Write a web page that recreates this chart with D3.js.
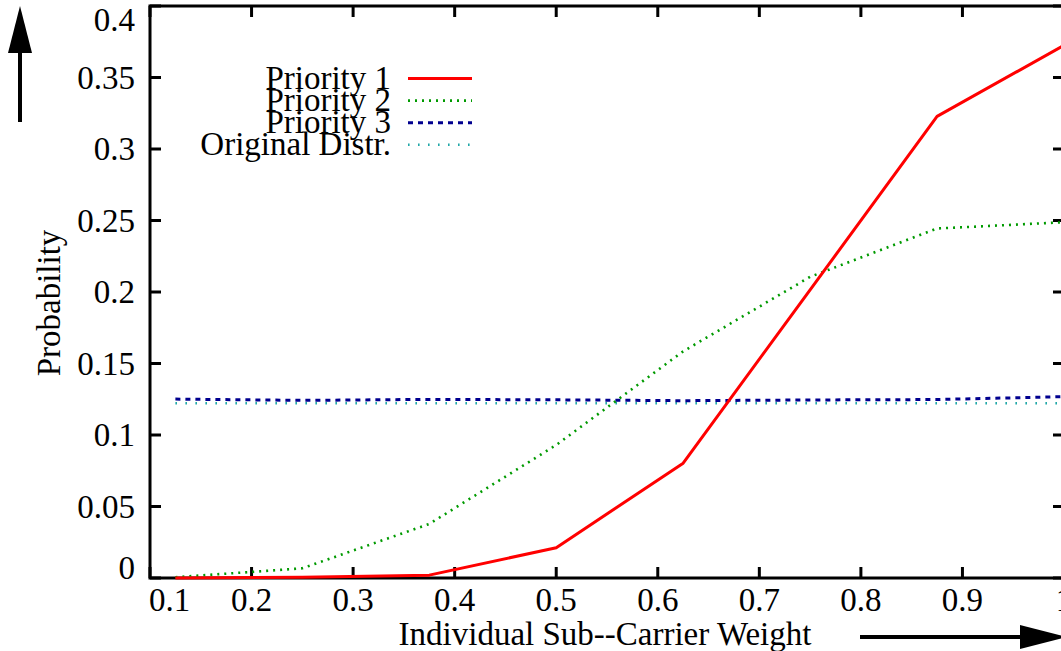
<!DOCTYPE html>
<html>
<head>
<meta charset="utf-8">
<script src="https://cdn.jsdelivr.net/npm/d3@7"></script>
<style>
    body { margin: 0; background: #fff; }
    text { font-family: "Liberation Serif", "DejaVu Serif", serif; fill: #000; }
</style>
</head>
<body>
<div id="chart"></div>
<script>
// Data
var weights = [0.125, 0.25, 0.375, 0.5, 0.625, 0.75, 0.875, 1.0];
var priority1 = [0.0, 0.0005, 0.002, 0.0212, 0.0803, 0.2015, 0.3228, 0.3725];
var priority2 = [0.0005, 0.0068, 0.0378, 0.093, 0.1585, 0.2106, 0.2444, 0.2488];
var priority3 = [0.1251, 0.1242, 0.1249, 0.1246, 0.1240, 0.1245, 0.1248, 0.1268];
var originalDistr = [0.1222, 0.1222, 0.1222, 0.1222, 0.1222, 0.1222, 0.1222, 0.1222];

var seriesNames = ["Priority 1", "Priority 2", "Priority 3", "Original Distr."];
var xTicks = [0.1, 0.2, 0.3, 0.4, 0.5, 0.6, 0.7, 0.8, 0.9, 1];
var yTicks = [0, 0.05, 0.1, 0.15, 0.2, 0.25, 0.3, 0.35, 0.4];

var seriesStyles = [
    {color: "#ff0000", width: 3, dash: null},
    {color: "#009a00", width: 2.6, dash: "2,5"},
    {color: "#00008f", width: 3, dash: "5,5"},
    {color: "#22a8a8", width: 2.4, dash: "1.6,8.4"}
];

var width = 1061, height = 651;
var margin = {top: 6, right: 0, bottom: 73, left: 150};
var plotRight = 1064;
var fontSize = "33px";

var svg = d3.select("#chart").append("svg")
    .attr("width", width)
    .attr("height", height);

var xScale = d3.scaleLinear().domain([0.1, 1]).range([margin.left, plotRight]);
var yScale = d3.scaleLinear().domain([0, 0.4]).range([height - margin.bottom, margin.top]);

var x0 = xScale(0.1), x1 = xScale(1), y0 = yScale(0), y1 = yScale(0.4);
var tickLen = 11;

// Frame
svg.append("rect")
    .attr("x", x0).attr("y", y1)
    .attr("width", x1 - x0).attr("height", y0 - y1)
    .attr("fill", "none").attr("stroke", "#000").attr("stroke-width", 3);

// Ticks (gnuplot style: on all four sides, pointing inwards)
var tickG = svg.append("g").attr("stroke", "#000").attr("stroke-width", 3);
xTicks.forEach(function(t) {
    tickG.append("line").attr("x1", xScale(t)).attr("x2", xScale(t)).attr("y1", y0).attr("y2", y0 - tickLen);
    tickG.append("line").attr("x1", xScale(t)).attr("x2", xScale(t)).attr("y1", y1).attr("y2", y1 + tickLen);
});
yTicks.forEach(function(t) {
    tickG.append("line").attr("x1", x0).attr("x2", x0 + tickLen).attr("y1", yScale(t)).attr("y2", yScale(t));
    tickG.append("line").attr("x1", x1).attr("x2", x1 - tickLen).attr("y1", yScale(t)).attr("y2", yScale(t));
});

var fmt = function(d) { return String(+d.toFixed(2)); };

// Tick labels (first x label is shifted right, as in the original)
svg.append("g").selectAll("text")
    .data(xTicks).enter().append("text")
    .attr("x", function(d, i) { return i === 0 ? x0 - 1 : xScale(d); })
    .attr("y", y0 + 33)
    .attr("text-anchor", function(d, i) { return i === 0 ? "start" : "middle"; })
    .style("font-size", fontSize)
    .text(fmt);

// end labels are pushed inwards so they stay clear of the corners
svg.append("g").selectAll("text")
    .data(yTicks).enter().append("text")
    .attr("x", x0 - 15)
    .attr("y", function(d) { return Math.min(Math.max(yScale(d) + 11, 31), 579); })
    .attr("text-anchor", "end")
    .style("font-size", fontSize)
    .text(fmt);

// Axis titles
svg.append("text")
    .attr("x", (x0 + x1) / 2 - 2)
    .attr("y", 645)
    .attr("text-anchor", "middle")
    .style("font-size", fontSize)
    .text("Individual Sub--Carrier Weight");

svg.append("text")
    .attr("transform", "translate(60," + 303 + ") rotate(-90)")
    .attr("text-anchor", "middle")
    .style("font-size", fontSize)
    .text("Probability");

// Arrows next to the axis titles
svg.append("line")
    .attr("x1", 20).attr("x2", 20).attr("y1", 122).attr("y2", 50)
    .attr("stroke", "#000").attr("stroke-width", 4);
svg.append("path")
    .attr("d", "M20,6 L32,53 L8,53 Z")
    .attr("fill", "#000");

svg.append("line")
    .attr("x1", 860).attr("x2", 1022).attr("y1", 637).attr("y2", 637)
    .attr("stroke", "#000").attr("stroke-width", 4);
svg.append("path")
    .attr("d", "M1067,637 L1020,625 L1020,649 Z")
    .attr("fill", "#000");

// Lines
var allSeries = [priority1, priority2, priority3, originalDistr];

var line = d3.line()
    .x(function(d, i) { return xScale(weights[i]); })
    .y(function(d) { return yScale(d); });

// draw from back to front so the red line is on top
[3, 2, 1, 0].forEach(function(k) {
    var s = seriesStyles[k];
    svg.append("path")
        .datum(allSeries[k])
        .attr("d", line)
        .attr("fill", "none")
        .attr("stroke", s.color)
        .attr("stroke-width", s.width)
        .attr("stroke-dasharray", s.dash)
        .attr("stroke-linejoin", "round");
});

// Legend
var legendY0 = 78.5, legendStep = 22.1;
var legend = svg.append("g");
seriesNames.forEach(function(name, k) {
    var s = seriesStyles[k];
    var ly = legendY0 + k * legendStep;
    legend.append("text")
        .attr("x", 391)
        .attr("y", ly + 10)
        .attr("text-anchor", "end")
        .style("font-size", fontSize)
        .text(name);
    legend.append("line")
        .attr("x1", 408).attr("x2", 472)
        .attr("y1", ly).attr("y2", ly)
        .attr("stroke", s.color)
        .attr("stroke-width", s.width)
        .attr("stroke-dasharray", s.dash);
});
</script>
</body>
</html>
